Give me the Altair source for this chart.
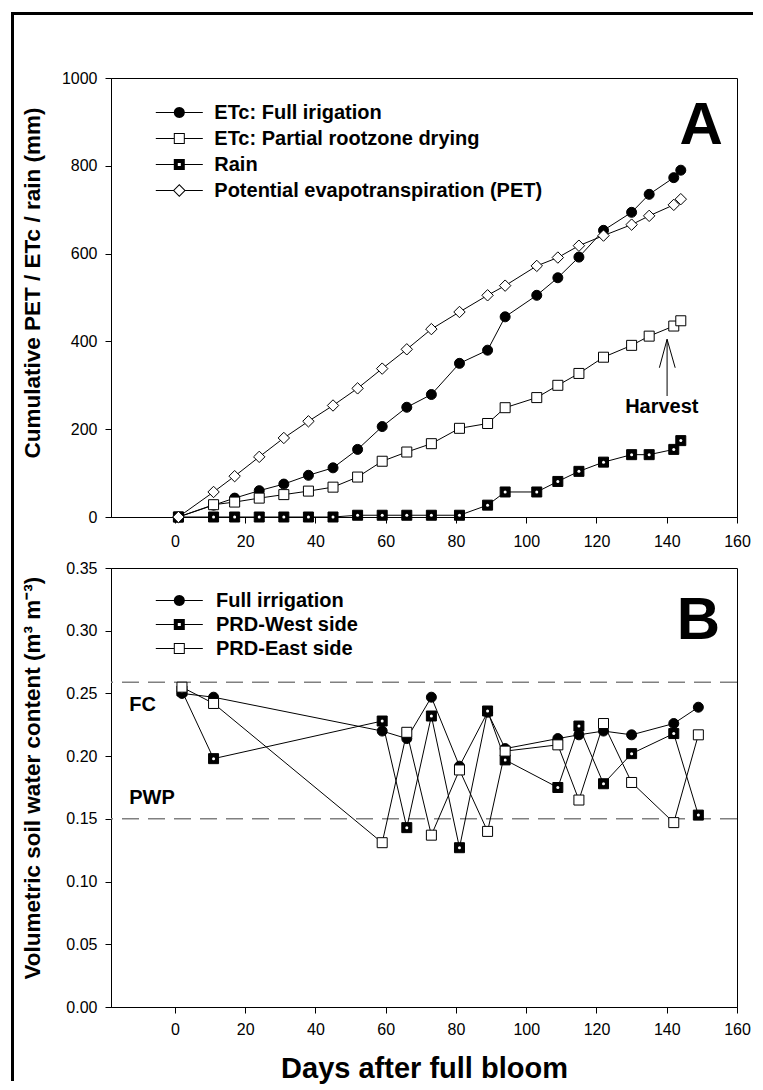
import math
import altair as alt
import pandas as pd

FONT = "Liberation Sans"

# ---------------- Panel A: cumulative water (mm) ----------------
days_a = [1, 11, 17, 24, 31, 38, 45, 52, 59, 66, 73, 81, 89, 94, 103, 109, 115, 122, 130, 135, 142, 144]
etc_full = [0, 27, 43, 60, 75, 95, 112, 154, 206, 250, 279, 350, 380, 456, 505, 545, 592, 653, 694, 735, 773, 790]
etc_prd = [0, 28, 34, 43, 51, 59, 68, 91, 127, 148, 167, 202, 213, 249, 272, 300, 327, 364, 391, 412, 435, 447]
rain = [0, 0, 0, 0, 0, 0, 0, 4, 4, 4, 4, 4, 27, 57, 57, 81, 104, 125, 142, 142, 154, 174]
pet = [0, 57, 93, 137, 180, 218, 254, 293, 338, 382, 428, 467, 505, 527, 572, 591, 618, 641, 666, 686, 711, 724]
names_a = ["ETc: Full irigation", "ETc: Partial rootzone drying", "Rain",
           "Potential evapotranspiration (PET)"]

# ---------------- Panel B: volumetric soil water content ----------------
days_b = [2, 11, 59, 66, 73, 81, 89, 94, 109, 115, 122, 130, 142, 149]
swc_full = [0.250, 0.247, 0.220, 0.214, 0.247, 0.192, 0.235, 0.206, 0.214, 0.217, 0.220, 0.217, 0.226, 0.239]
swc_west = [0.252, 0.198, 0.228, 0.143, 0.232, 0.127, 0.236, 0.197, 0.175, 0.224, 0.178, 0.202, 0.218, 0.153]
swc_east = [0.255, 0.242, 0.131, 0.219, 0.137, 0.189, 0.140, 0.204, 0.209, 0.165, 0.226, 0.179, 0.147, 0.217]
names_b = ["Full irrigation", "PRD-West side", "PRD-East side"]
fc_level = 0.259
pwp_level = 0.150

# tick values
x_ticks = [0, 20, 40, 60, 80, 100, 120, 140, 160]
ya_ticks = [0, 200, 400, 600, 800, 1000]
yb_ticks = [0.0, 0.05, 0.10, 0.15, 0.20, 0.25, 0.30, 0.35]

# annotations (data coordinates)
letter_a = {"day": [149.8], "val": [849], "label": ["A"]}
harvest_txt = {"day": [138.6], "val": [237.6], "label": ["Harvest"]}
arrow_day = [140.1, 137.9, 142.4]
arrow_val = [275.6, 340, 340]
arrow_day2 = [140.1, 140.1, 140.1]
arrow_val2 = [404.8, 404.8, 404.8]
letter_b = {"day": [149.0], "val": [0.2932], "label": ["B"]}
fc_txt = {"day": [-13.0], "val": [0.236], "label": ["FC"]}
pwp_txt = {"day": [-13.0], "val": [0.1616], "label": ["PWP"]}

# ---------------- styling helpers ----------------
W, HA, HB = 626, 439, 439
x_scale = alt.Scale(domain=[-18.2, 160], nice=False, zero=False)

XA = alt.X("day:Q", scale=x_scale, axis=alt.Axis(values=x_ticks, title=None, labelPadding=10))
XB = alt.X("day:Q", scale=x_scale,
           axis=alt.Axis(values=x_ticks, title="Days after full bloom", titleFontSize=29,
                         titleX=313, titleY=70, titleBaseline="alphabetic", titleAlign="center",
                         labelPadding=8))
YA = alt.Y("val:Q", scale=alt.Scale(domain=[0, 1000], nice=False),
           axis=alt.Axis(values=ya_ticks, format="d", title="Cumulative PET / ETc / rain (mm)",
                         titleFontSize=22.5, titleX=-72, titleY=380, titleAngle=270, titleAlign="left",
                         titleBaseline="alphabetic", labelPadding=8))
YB = alt.Y("val:Q", scale=alt.Scale(domain=[0, 0.35], nice=False),
           axis=alt.Axis(values=yb_ticks, format=".2f",
                         title="Volumetric soil water content (m³ m⁻³)", titleFontSize=22.5,
                         titleX=-72, titleY=411, titleAngle=270, titleAlign="left",
                         titleBaseline="alphabetic", labelPadding=8))

MARKERS = {
    "circle": dict(shape="circle", size=100, fill="black"),
    "open_square": dict(shape="square", size=100, fill="white"),
    "dot_square": dict(shape="square", size=100, fill="black"),
    "open_diamond": dict(shape="diamond", size=130, fill="white"),
}


def series_layers(days, vals, kind, X, Y):
    df = pd.DataFrame({"day": days, "val": vals})
    base = alt.Chart(df)
    m = MARKERS[kind]
    layers = [
        base.mark_line(color="black", strokeWidth=1).encode(x=X, y=Y),
        base.mark_point(shape=m["shape"], size=m["size"], filled=True, fill=m["fill"],
                        stroke="black", strokeWidth=1, opacity=1).encode(x=X, y=Y),
    ]
    if kind == "dot_square":
        layers.append(base.mark_point(shape="circle", size=9, filled=True, fill="white",
                                      strokeWidth=0, opacity=1).encode(x=X, y=Y))
    return layers


# legend symbols: line + marker drawn as filled polygons (unit = 5.5 px)
U = 5.5


def _poly(pts):
    return "M" + " L".join(f"{x / U:.4f},{y / U:.4f}" for x, y in pts) + " Z "


def _rect(x0, y0, x1, y1, ccw=False):
    pts = [(x0, y0), (x1, y0), (x1, y1), (x0, y1)]
    if ccw:
        pts = [(x0, y0), (x0, y1), (x1, y1), (x1, y0)]
    return _poly(pts)


def _lines(e):
    return _rect(-23.5, -0.5, -e, 0.5) + _rect(e, -0.5, 23.5, 0.5)


def sym(kind):
    if kind == "circle":
        pts = [(5.5 * math.cos(2 * math.pi * i / 28), 5.5 * math.sin(2 * math.pi * i / 28)) for i in range(28)]
        return _lines(4.5) + _poly(pts)
    if kind == "open_square":
        return _lines(5.0) + _rect(-5.5, -5.5, 5.5, 5.5) + _rect(-4.5, -4.5, 4.5, 4.5, ccw=True)
    if kind == "dot_square":
        return _lines(5.0) + _rect(-5.5, -5.5, 5.5, 5.5) + _rect(-1.5, -1.5, 1.5, 1.5, ccw=True)
    if kind == "open_diamond":
        outer = [(0, -6.4), (6.4, 0), (0, 6.4), (-6.4, 0)]
        inner = [(0, -5.0), (-5.0, 0), (0, 5.0), (5.0, 0)]
        return _lines(5.6) + _poly(outer) + _poly(inner)
    raise ValueError(kind)


def legend_layer(days, series_vals, names, kinds, X, Y, lx, ly, rowpad, loff):
    rows = []
    for name, vals in zip(names, series_vals):
        for d, v in zip(days, vals):
            rows.append({"day": d, "val": v, "series": name})
    df = pd.DataFrame(rows)
    leg = alt.Legend(title=None, orient="none", legendX=lx, legendY=ly, direction="vertical",
                     columns=1, symbolSize=121, symbolStrokeWidth=0, symbolFillColor="black",
                     symbolOpacity=1, rowPadding=rowpad, labelOffset=loff, labelFont=FONT,
                     labelFontSize=20, labelFontWeight="bold", labelColor="black",
                     labelLimit=600, padding=0)
    return alt.Chart(df).mark_point(filled=True, color="black", opacity=0).encode(
        x=X, y=Y,
        shape=alt.Shape("series:N", scale=alt.Scale(domain=names, range=[sym(k) for k in kinds]),
                        legend=leg),
    )


def text_layer(d, X, Y, size, align="center"):
    return alt.Chart(pd.DataFrame(d)).mark_text(
        font=FONT, fontSize=size, fontWeight="bold", align=align, baseline="alphabetic", color="black"
    ).encode(x=X, y=Y, text="label:N")


# ---------------- Panel A ----------------
kinds_a = ["circle", "open_square", "dot_square", "open_diamond"]
layers_a = []
for vals, kind in zip([etc_full, etc_prd, rain, pet], kinds_a):
    layers_a += series_layers(days_a, vals, kind, XA, YA)
layers_a.append(legend_layer(days_a, [etc_full, etc_prd, rain, pet], names_a, kinds_a, XA, YA,
                             58.3, 24.5, 6, 25))
layers_a.append(text_layer(letter_a, XA, YA, 60))
layers_a.append(text_layer(harvest_txt, XA, YA, 20))
arrow_df = pd.DataFrame({"day": arrow_day, "val": arrow_val, "day2": arrow_day2, "val2": arrow_val2})
layers_a.append(alt.Chart(arrow_df).mark_rule(color="black", strokeWidth=1).encode(
    x=XA, y=YA, x2="day2", y2="val2"))
# outer figure frame (decoration: left and top edges, drawn as thin filled bars)
frame_df = pd.DataFrame({"k": [0]})
layers_a.append(alt.Chart(frame_df).mark_rect(color="black", strokeWidth=0).encode(
    x=alt.value(-100), x2=alt.value(-97), y=alt.value(-66), y2=alt.value(1003)))
layers_a.append(alt.Chart(frame_df).mark_rect(color="black", strokeWidth=0).encode(
    x=alt.value(-100), x2=alt.value(642), y=alt.value(-66), y2=alt.value(-63)))
panel_a = alt.layer(*layers_a).properties(width=W, height=HA)

# ---------------- Panel B ----------------
kinds_b = ["circle", "dot_square", "open_square"]
layers_b = [
    alt.Chart(pd.DataFrame({"val": [fc_level, pwp_level]})).mark_rule(
        color="#808080", strokeDash=[17, 9], strokeWidth=1.5).encode(y=YB)
]
for vals, kind in zip([swc_full, swc_west, swc_east], kinds_b):
    layers_b += series_layers(days_b, vals, kind, XB, YB)
layers_b.append(legend_layer(days_b, [swc_full, swc_west, swc_east], names_b, kinds_b, XB, YB,
                             58.3, 22.5, 4, 26.7))
layers_b.append(text_layer(letter_b, XB, YB, 60))
layers_b.append(text_layer(fc_txt, XB, YB, 20, align="left"))
layers_b.append(text_layer(pwp_txt, XB, YB, 20, align="left"))
panel_b = alt.layer(*layers_b).properties(width=W, height=HB)

chart = (
    alt.vconcat(panel_a, panel_b, spacing=51, bounds="flush")
    .resolve_scale(shape="independent")
    .resolve_legend(shape="independent")
    .properties(padding={"left": 2, "top": 3, "right": 0, "bottom": 0}, background="white")
    .configure_view(stroke="black", strokeWidth=1, fill="white")
    .configure_axis(domainColor="black", domainWidth=1, tickColor="black", tickWidth=1, tickSize=6,
                    labelColor="black", labelFont=FONT, labelFontSize=16, titleFont=FONT,
                    titleFontWeight="bold", titleColor="black", grid=False, labelFlush=False,
                    labelOverlap=False, titleLimit=1000)
)

chart.save("out.html", embed_options={"renderer": "svg", "actions": False})
